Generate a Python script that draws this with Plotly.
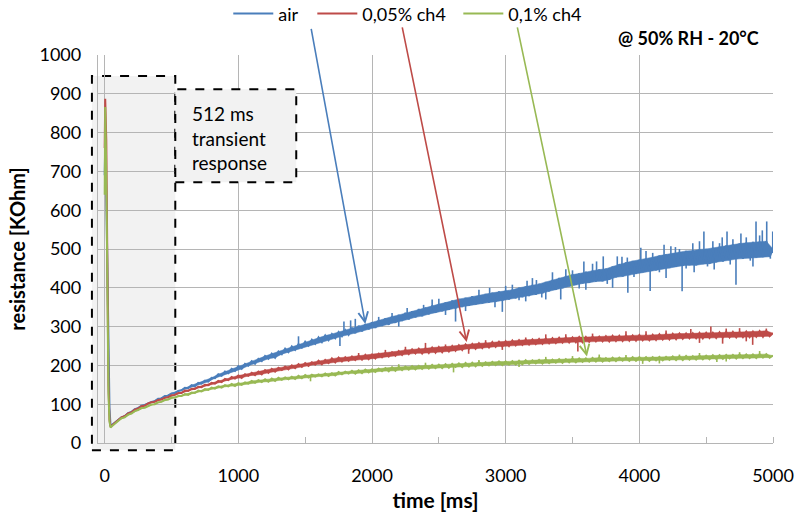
import plotly.graph_objects as go

# --- sampling times [ms] -------------------------------------------------
t_transient = [0, 4, 12, 20, 28, 36, 44, 60, 80]
t_main = list(range(100, 5001, 25))

# --- resistance [KOhm] during the heater pulse ---------------------------
air_transient = [690, 765, 640, 420, 230, 90, 44, 48, 54]
ch4_005_transient = [760, 887, 780, 380, 150, 60, 42, 47, 53]
ch4_01_transient = [640, 866, 700, 330, 130, 55, 40, 45, 51]

# --- resistance [KOhm] after the pulse (25 ms samples) -------------------
air_main = [
    60, 66, 69, 77, 80, 87, 90, 96, 98, 103,
    106, 108, 114, 115, 121, 122, 128, 129, 134, 136,
    142, 141, 149, 146, 155, 153, 161, 158, 168, 167,
    177, 173, 184, 180, 191, 186, 198, 191, 204, 199,
    211, 204, 217, 211, 224, 217, 230, 220, 236, 229,
    243, 234, 249, 240, 255, 246, 261, 251, 266, 256,
    272, 260, 277, 265, 281, 270, 286, 275, 291, 279,
    297, 283, 302, 288, 306, 293, 311, 297, 316, 302,
    321, 305, 326, 310, 330, 315, 335, 319, 339, 324,
    345, 327, 349, 332, 354, 336, 358, 340, 362, 344,
    367, 347, 371, 351, 374, 354, 378, 357, 380, 360,
    384, 362, 387, 364, 390, 367, 392, 370, 395, 373,
    400, 376, 403, 379, 407, 382, 410, 386, 415, 391,
    420, 395, 425, 399, 430, 404, 434, 408, 437, 411,
    441, 413, 444, 416, 447, 417, 449, 421, 455, 427,
    461, 429, 465, 433, 469, 436, 472, 440, 475, 443,
    479, 445, 483, 449, 486, 451, 488, 454, 492, 457,
    495, 458, 496, 458, 499, 461, 500, 462, 503, 466,
    506, 468, 509, 471, 512, 474, 514, 475, 516, 477,
    518, 478, 519, 479, 520, 480, 500,
]
ch4_005_main = [
    59, 66, 69, 76, 79, 86, 89, 95, 96, 102,
    105, 106, 111, 112, 117, 118, 123, 124, 129, 129,
    135, 134, 140, 139, 145, 144, 150, 149, 155, 153,
    160, 157, 165, 162, 170, 166, 174, 168, 177, 173,
    181, 175, 184, 177, 188, 181, 191, 184, 194, 188,
    197, 190, 200, 193, 203, 196, 206, 199, 208, 202,
    212, 203, 214, 206, 218, 208, 220, 210, 221, 212,
    223, 214, 225, 215, 227, 216, 228, 218, 230, 221,
    232, 223, 234, 225, 237, 227, 240, 229, 241, 231,
    243, 231, 244, 232, 246, 233, 247, 234, 248, 236,
    250, 238, 252, 240, 254, 243, 255, 243, 257, 245,
    258, 246, 260, 248, 261, 249, 262, 250, 264, 252,
    265, 253, 266, 254, 267, 255, 268, 256, 269, 257,
    270, 258, 271, 259, 272, 259, 272, 260, 273, 260,
    273, 261, 274, 262, 274, 262, 275, 262, 276, 263,
    276, 263, 277, 264, 277, 264, 278, 265, 278, 265,
    279, 266, 280, 267, 281, 267, 281, 268, 282, 269,
    282, 270, 283, 270, 284, 270, 284, 271, 284, 271,
    285, 272, 286, 272, 286, 272, 286, 273, 287, 273,
    287, 274, 288, 274, 289, 275, 283,
]
ch4_01_main = [
    57, 64, 66, 73, 76, 82, 85, 90, 91, 96,
    99, 100, 105, 106, 111, 112, 117, 117, 121, 121,
    126, 124, 130, 129, 135, 133, 139, 137, 143, 140,
    146, 143, 149, 146, 152, 147, 154, 150, 156, 153,
    160, 155, 162, 157, 164, 158, 166, 160, 168, 163,
    169, 164, 171, 165, 173, 167, 175, 169, 176, 171,
    177, 172, 179, 173, 180, 174, 183, 177, 184, 179,
    186, 179, 187, 180, 189, 182, 190, 183, 192, 185,
    193, 185, 195, 186, 196, 188, 197, 189, 198, 190,
    199, 191, 200, 192, 201, 193, 202, 193, 203, 194,
    204, 196, 205, 196, 206, 197, 207, 198, 208, 199,
    208, 200, 209, 201, 210, 201, 210, 202, 211, 202,
    212, 203, 213, 204, 213, 205, 214, 205, 215, 206,
    215, 207, 216, 207, 216, 208, 217, 208, 218, 209,
    218, 210, 219, 210, 220, 210, 219, 211, 220, 211,
    220, 212, 220, 212, 221, 212, 221, 213, 221, 212,
    221, 213, 222, 213, 222, 214, 223, 214, 223, 214,
    224, 215, 224, 215, 225, 216, 225, 216, 226, 217,
    226, 217, 227, 218, 227, 218, 228, 219, 228, 219,
    228, 219, 229, 220, 229, 220, 225,
]

# --- isolated noise spikes: time [ms] and peak resistance [KOhm] ----------
air_spike_t = [1450, 1760, 1790, 1840, 1875, 2050, 2150, 2200, 2263, 2386,
               2450, 2500, 2550, 2625, 2700, 2800, 2880, 2920, 2975, 3000,
               3050, 3100, 3150, 3160, 3200, 3230, 3270, 3300, 3350, 3412,
               3450, 3500, 3550, 3585, 3600, 3650, 3680, 3730, 3760, 3800,
               3835, 3870, 3910, 3914, 3960, 4011, 4050, 4081, 4100, 4150,
               4185, 4200, 4236, 4270, 4300, 4320, 4350, 4400, 4410, 4450,
               4483, 4510, 4550, 4560, 4600, 4620, 4656, 4680, 4700, 4723,
               4760, 4800, 4830, 4850, 4873, 4900, 4920, 4953, 4980, 4998]
air_spike_r = [275, 250, 313, 316, 320, 325, 335, 300, 348, 356,
               370, 372, 330, 313, 340, 395, 400, 350, 338, 405,
               408, 368, 365, 418, 425, 420, 375, 370, 440, 370,
               448, 445, 398, 468, 395, 462, 468, 481, 410, 400,
               481, 480, 478, 387, 428, 503, 495, 392, 490, 440,
               511, 425, 507, 505, 500, 391, 450, 515, 440, 520,
               545, 455, 520, 447, 515, 530, 545, 460, 525, 408,
               540, 530, 470, 455, 571, 535, 548, 571, 475, 545]
ch4_005_spike_t = [1900, 2100, 2250, 2400, 2550, 2723, 2850, 2975, 3150,
                   3300, 3450, 3540, 3650, 3900, 4050, 4200, 4385, 4450,
                   4535, 4623, 4650, 4750, 4800, 4848, 4950]
ch4_005_spike_r = [232, 240, 248, 258, 254, 230, 265, 240, 272,
                   280, 280, 236, 282, 288, 288, 290, 294, 258,
                   300, 256, 295, 296, 262, 253, 295]
ch4_01_spike_t = [1540, 2200, 2400, 2610, 2800, 3100, 3300, 3500, 3700,
                  3900, 4025, 4150, 4300, 4450, 4580, 4650, 4750, 4900]
ch4_01_spike_r = [159, 203, 207, 182, 214, 196, 222, 224, 228,
                  227, 204, 205, 228, 232, 209, 210, 234, 237]

series_names = ["air", "0,05% ch4", "0,1% ch4"]
series_colors = ["#4A7EBB", "#BE4B48", "#98B954"]
legend_ids = ["legend", "legend2", "legend3"]
legend_x = [0.193, 0.3175, 0.5338]

# arrows from the legend down to each curve: (tail time, tail R, tip time, tip R)
arrow_tail_t = [1543, 2224, 3085]
arrow_tail_r = [1071, 1075, 1075]
arrow_tip_t = [1950, 2708, 3608]
arrow_tip_r = [307, 260, 223]

x_ticks = [0, 1000, 2000, 3000, 4000, 5000]
y_ticks = list(range(0, 1001, 100))

FONT = "Lato, 'Open Sans', sans-serif"
GRID = "#b5b5b5"
STEP = 25

fig = go.Figure()
main_values = [air_main, ch4_005_main, ch4_01_main]
transient_values = [air_transient, ch4_005_transient, ch4_01_transient]
spike_times = [air_spike_t, ch4_005_spike_t, ch4_01_spike_t]
spike_values = [air_spike_r, ch4_005_spike_r, ch4_01_spike_r]
t_all = t_transient + t_main

for name, color, main, trans, st, sr, lg in zip(
        series_names, series_colors, main_values, transient_values,
        spike_times, spike_values, legend_ids):
    # noise band: alternate samples form the two edges of a filled strip
    fig.add_trace(go.Scatter(
        x=t_main[1::2], y=main[1::2], mode="lines", showlegend=False,
        line=dict(color=color, width=0.5), hoverinfo="skip",
    ))
    fig.add_trace(go.Scatter(
        x=t_main[0::2], y=main[0::2], mode="lines", showlegend=False,
        line=dict(color=color, width=0.5), fill="tonexty", fillcolor=color,
        hoverinfo="skip",
    ))
    # thin spikes rising from the band
    sx, sy = [], []
    for ts, rs in zip(st, sr):
        i = (ts - t_main[0]) // STEP
        base = (main[i] + main[min(i + 1, len(main) - 1)]) / 2
        sx += [ts, ts, None]
        sy += [base, rs, None]
    fig.add_trace(go.Scatter(
        x=sx, y=sy, mode="lines", showlegend=False, hoverinfo="skip",
        line=dict(color=color, width=1.6),
    ))
    # the measured trace itself
    fig.add_trace(go.Scatter(
        x=t_all, y=trans + main, name=name, mode="lines", legend=lg,
        line=dict(color=color, width=2),
    ))

for color, tx, ty, hx, hy in zip(series_colors, arrow_tail_t, arrow_tail_r,
                                 arrow_tip_t, arrow_tip_r):
    fig.add_annotation(
        x=hx, y=hy, ax=tx, ay=ty, xref="x", yref="y", axref="x", ayref="y",
        text="", showarrow=True, arrowhead=5, arrowsize=1.2, arrowwidth=1.6,
        arrowcolor=color, standoff=0,
    )

# shaded 512 ms transient window (behind the grid)
fig.add_shape(
    type="rect", xref="paper", yref="paper",
    x0=-0.009, x1=0.1145, y0=-0.019, y1=0.946,
    fillcolor="#f2f2f2", line=dict(color="black", width=2, dash="dash"),
    layer="below",
)
# label box
fig.add_shape(
    type="rect", xref="paper", yref="paper",
    x0=0.1145, x1=0.2937, y0=0.672, y1=0.912,
    fillcolor="#f2f2f2", line=dict(color="black", width=2, dash="dash"),
    layer="above",
)
fig.add_annotation(
    x=0.1367, y=0.786, xref="paper", yref="paper", xanchor="left",
    yanchor="middle", align="left", showarrow=False,
    text="512 ms<br>transient<br>response",
    font=dict(family=FONT, size=19, color="black"),
)
fig.add_annotation(
    x=0.9827, y=1.044, xref="paper", yref="paper", xanchor="right",
    yanchor="middle", showarrow=False, text="<b>@ 50% RH - 20°C</b>",
    font=dict(family=FONT, size=18, color="black"),
)

legend_style = dict(
    orientation="h", y=1.106, xanchor="left", yanchor="middle",
    font=dict(family=FONT, size=18, color="black"),
    bgcolor="rgba(0,0,0,0)", itemwidth=40,
)

fig.update_layout(
    width=799, height=522,
    margin=dict(l=98, r=26, t=55, b=79, autoexpand=False),
    paper_bgcolor="white", plot_bgcolor="white",
    font=dict(family=FONT, size=18, color="black"),
    showlegend=True,
    legend=dict(x=legend_x[0], **legend_style),
    legend2=dict(x=legend_x[1], **legend_style),
    legend3=dict(x=legend_x[2], **legend_style),
    xaxis=dict(
        range=[-50, 5000], tickvals=x_ticks, showgrid=True, gridcolor=GRID,
        gridwidth=1.3, showline=True, linecolor=GRID, linewidth=1.3,
        zeroline=False, ticks="", ticklabelstandoff=16,
        minor=dict(dtick=500, tick0=0, ticks="inside", ticklen=6,
                   tickcolor=GRID, tickwidth=1.3, showgrid=False),
        title=dict(text="<b>time [ms]</b>", font=dict(family=FONT, size=21),
                   standoff=8),
    ),
    yaxis=dict(
        range=[0, 1000], tickvals=y_ticks, showgrid=True, gridcolor=GRID,
        gridwidth=1.3, showline=True, linecolor=GRID, linewidth=1.3,
        zeroline=False, ticks="", ticklabelstandoff=12,
        title=dict(text="<b>resistance [KOhm]</b>",
                   font=dict(family=FONT, size=20), standoff=8),
    ),
)

fig.write_html("out.html")
